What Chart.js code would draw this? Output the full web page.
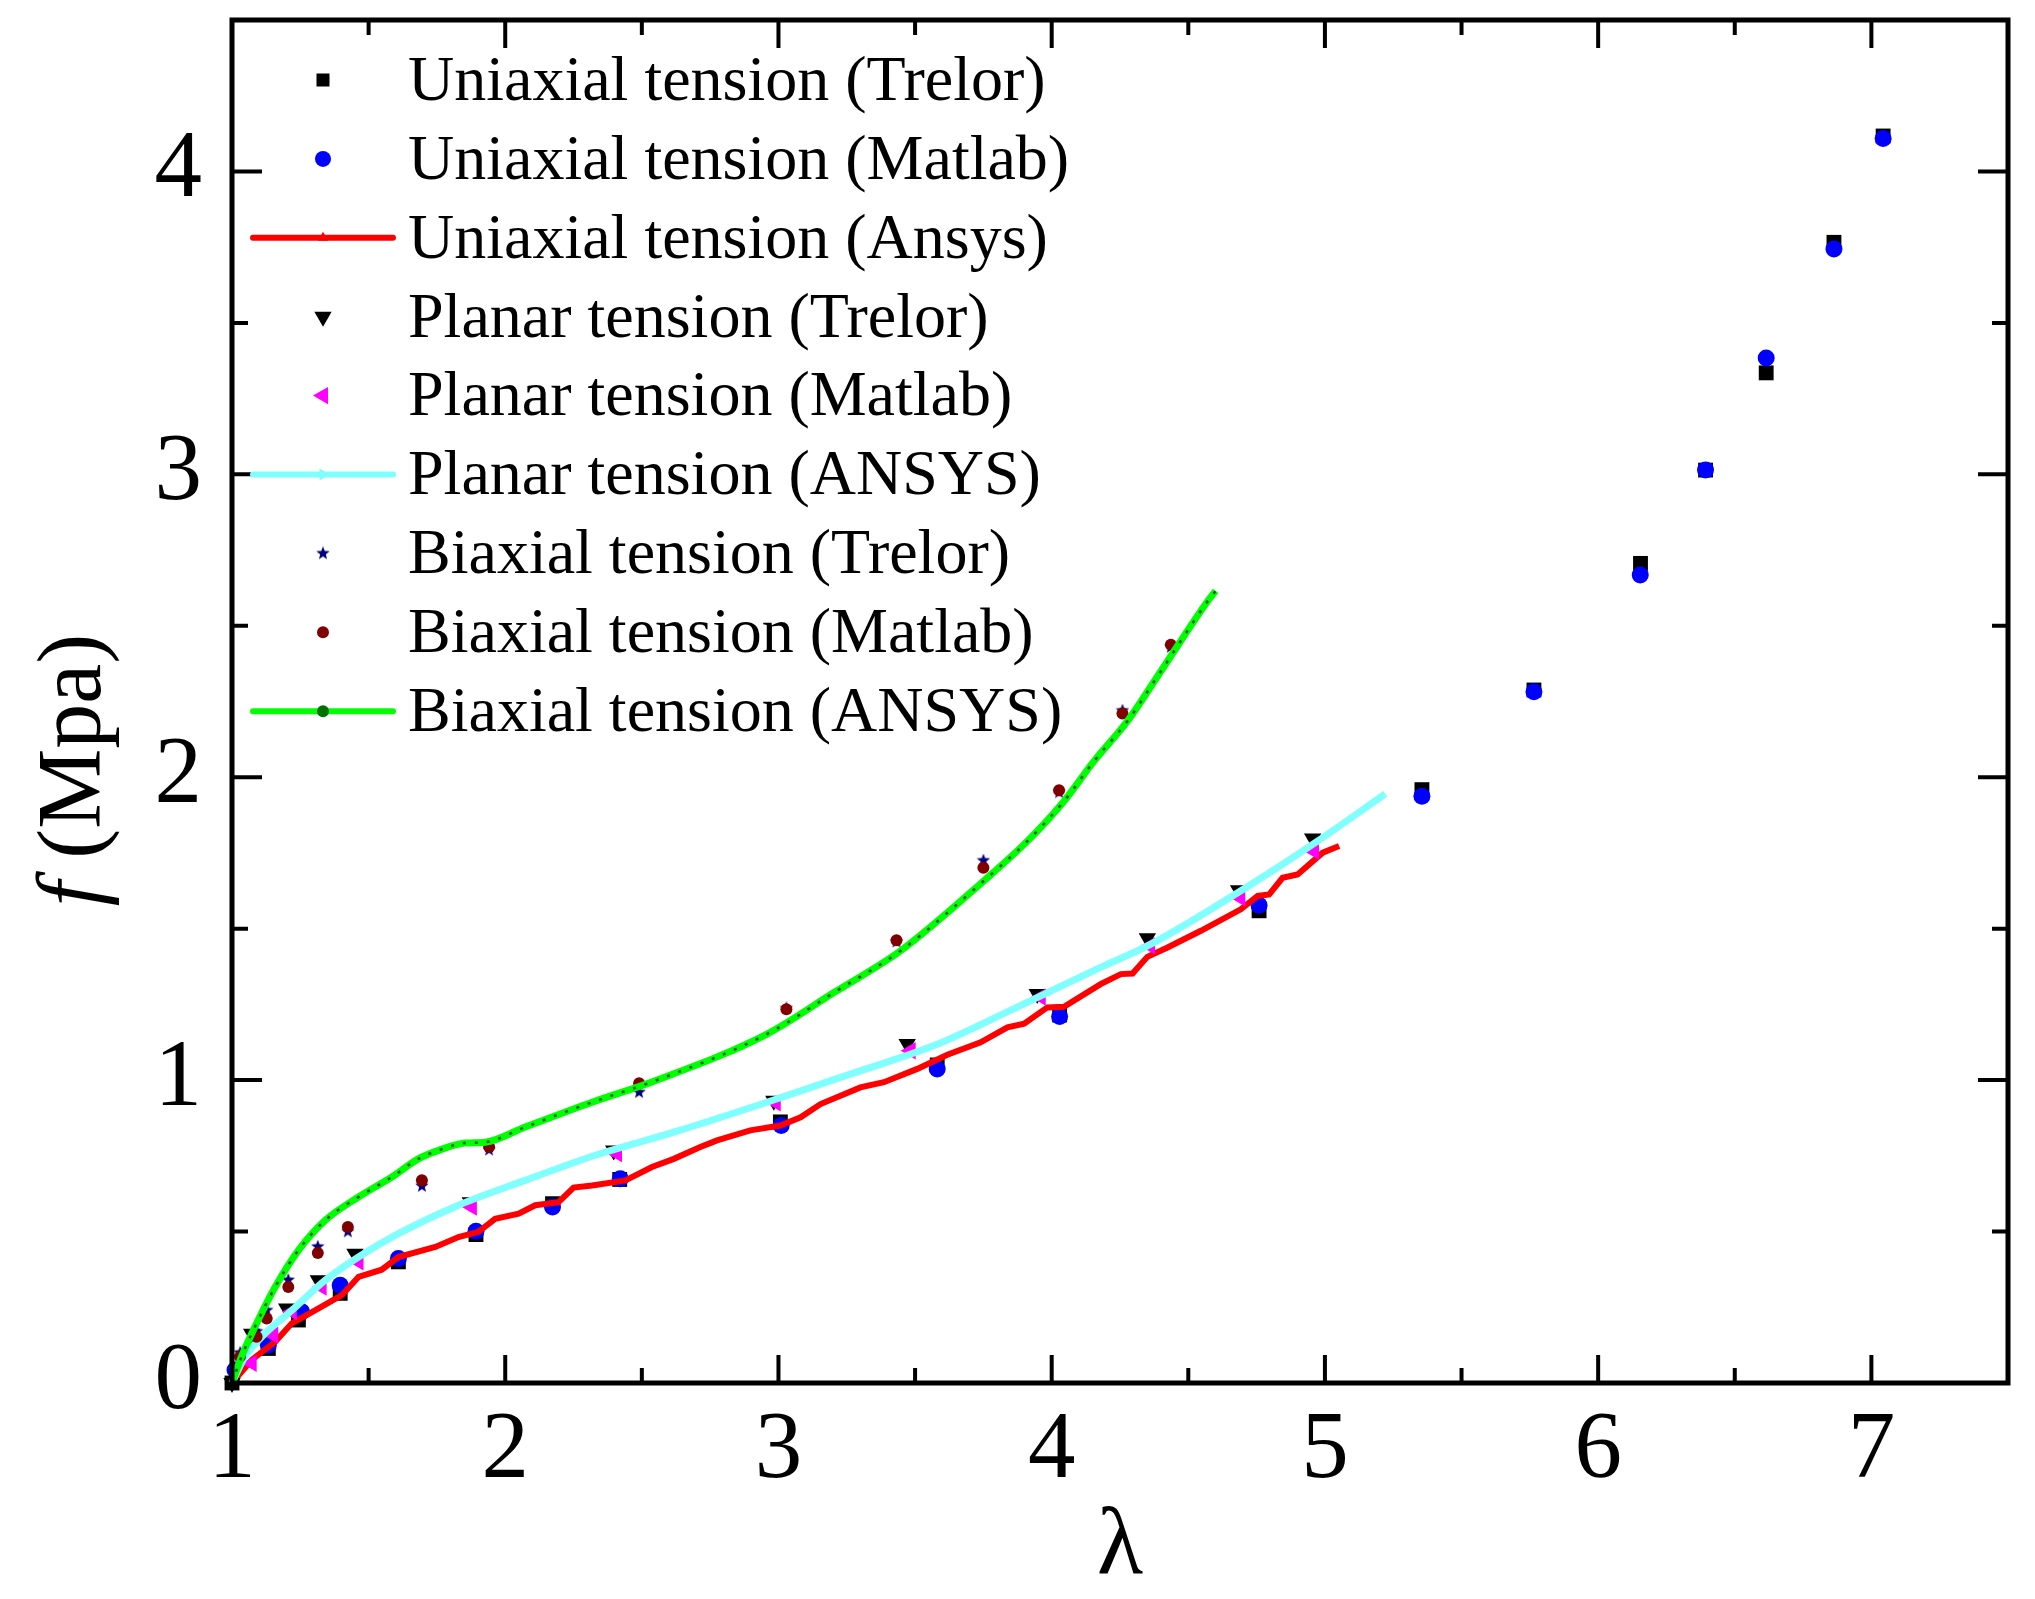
<!DOCTYPE html>
<html>
<head>
<meta charset="utf-8">
<title>f vs lambda</title>
<script src="https://cdn.jsdelivr.net/npm/chart.js@4.4.1/dist/chart.umd.min.js"></script>
<style>
  html, body { margin: 0; padding: 0; background: #fff; }
  #wrap { width: 2035px; height: 1599px; }
</style>
</head>
<body>
<div id="wrap"><canvas id="chart"></canvas></div>
<script>
// series names, in legend order
const seriesNames = [
    'Uniaxial tension (Trelor)',
    'Uniaxial tension (Matlab)',
    'Uniaxial tension (Ansys)',
    'Planar tension (Trelor)',
    'Planar tension (Matlab)',
    'Planar tension (ANSYS)',
    'Biaxial tension (Trelor)',
    'Biaxial tension (Matlab)',
    'Biaxial tension (ANSYS)'
];

// uniaxial tension
const uniTrelorX = [1.0, 1.133, 1.243, 1.396, 1.609, 1.893, 2.173, 2.419, 3.007, 3.581, 4.029, 4.759, 5.355, 5.765, 6.155, 6.393, 6.615, 6.863, 7.043];
const uniTrelorY = [0.0, 0.114, 0.208, 0.296, 0.400, 0.490, 0.592, 0.672, 0.862, 1.050, 1.215, 1.559, 1.959, 2.288, 2.706, 3.014, 3.335, 3.766, 4.117];
const uniMatlabX = [1.011, 1.133, 1.255, 1.396, 1.609, 1.893, 2.173, 2.421, 3.010, 3.581, 4.029, 4.759, 5.355, 5.765, 6.154, 6.393, 6.615, 6.863, 7.043];
const uniMatlabY = [0.043, 0.125, 0.235, 0.323, 0.411, 0.501, 0.581, 0.674, 0.850, 1.037, 1.210, 1.577, 1.937, 2.282, 2.668, 3.014, 3.384, 3.744, 4.109];
const uniAnsysX = [1.000, 1.072, 1.158, 1.219, 1.304, 1.402, 1.463, 1.548, 1.609, 1.744, 1.829, 1.902, 1.963, 2.049, 2.110, 2.195, 2.250, 2.318, 2.440, 2.537, 2.617, 2.714, 2.775, 2.897, 3.007, 3.081, 3.154, 3.300, 3.386, 3.508, 3.618, 3.740, 3.838, 3.899, 3.984, 4.045, 4.179, 4.253, 4.296, 4.350, 4.424, 4.546, 4.692, 4.754, 4.796, 4.845, 4.900, 4.992, 5.052];
const uniAnsysY = [0.000, 0.076, 0.136, 0.197, 0.240, 0.290, 0.350, 0.374, 0.416, 0.449, 0.482, 0.499, 0.542, 0.559, 0.587, 0.597, 0.645, 0.652, 0.669, 0.713, 0.740, 0.779, 0.801, 0.834, 0.850, 0.877, 0.921, 0.976, 0.993, 1.037, 1.084, 1.125, 1.174, 1.186, 1.240, 1.242, 1.317, 1.350, 1.352, 1.407, 1.438, 1.493, 1.564, 1.608, 1.613, 1.668, 1.679, 1.751, 1.773];

// planar tension
const plaTrelorX = [1.0, 1.072, 1.200, 1.316, 1.450, 1.872, 2.397, 2.983, 3.471, 3.947, 4.350, 4.684, 4.955];
const plaTrelorY = [0.0, 0.163, 0.246, 0.339, 0.427, 0.597, 0.768, 0.932, 1.119, 1.284, 1.468, 1.627, 1.798];
const plaMatlabX = [1.072, 1.151, 1.219, 1.328, 1.463, 1.878, 2.409, 2.990, 3.484, 3.960, 4.360, 4.690, 4.960];
const plaMatlabY = [0.065, 0.158, 0.235, 0.317, 0.400, 0.581, 0.757, 0.925, 1.097, 1.274, 1.443, 1.602, 1.756];
const plaAnsysX = [1.000, 1.048, 1.121, 1.219, 1.341, 1.463, 1.609, 1.829, 2.073, 2.330, 2.617, 2.958, 3.264, 3.569, 3.874, 4.179, 4.363, 4.729, 4.973, 5.221];
const plaAnsysY = [0.000, 0.087, 0.163, 0.240, 0.339, 0.416, 0.493, 0.587, 0.669, 0.752, 0.828, 0.927, 1.020, 1.114, 1.241, 1.372, 1.449, 1.646, 1.789, 1.945];

// biaxial tension
const biTrelorX = [1.030, 1.090, 1.127, 1.206, 1.314, 1.424, 1.695, 1.941, 2.490, 3.029, 3.432, 3.750, 4.027, 4.259, 4.436];
const biTrelorY = [0.100, 0.170, 0.240, 0.340, 0.450, 0.500, 0.650, 0.770, 0.960, 1.237, 1.457, 1.725, 1.950, 2.220, 2.430];
const biMatlabX = [1.029, 1.090, 1.127, 1.206, 1.314, 1.424, 1.695, 1.941, 2.490, 3.029, 3.432, 3.750, 4.027, 4.259, 4.436];
const biMatlabY = [0.087, 0.153, 0.213, 0.317, 0.429, 0.515, 0.669, 0.779, 0.990, 1.234, 1.462, 1.701, 1.957, 2.210, 2.437];
const biAnsysX = [1.000, 1.035, 1.096, 1.158, 1.243, 1.341, 1.463, 1.585, 1.682, 1.756, 1.853, 1.927, 2.073, 2.318, 2.549, 2.958, 3.203, 3.447, 3.758, 3.911, 4.045, 4.155, 4.277, 4.399, 4.570, 4.600];
const biAnsysY = [0.000, 0.087, 0.208, 0.317, 0.438, 0.537, 0.614, 0.680, 0.740, 0.768, 0.792, 0.795, 0.845, 0.927, 0.998, 1.152, 1.289, 1.427, 1.663, 1.789, 1.921, 2.053, 2.185, 2.349, 2.580, 2.615];

// axes
const xTickLabels = [1, 2, 3, 4, 5, 6, 7];
const yTickLabels = [0, 1, 2, 3, 4];
const xRange = [1, 7.5];
const yRange = [0, 4.5];
const xTitle = 'λ';
const yTitleItalic = 'f';
const yTitleRest = ' (Mpa)';

const serif = '"Liberation Serif", "Times New Roman", serif';

function pts(xs, ys) {
    return xs.map((x, i) => ({ x: x, y: ys[i] }));
}

// small filled five point star, used as point image
function makeStar(size, color) {
    const c = document.createElement('canvas');
    c.width = size;
    c.height = size;
    const g = c.getContext('2d');
    const R = size / 2, r = R * 0.42;
    g.fillStyle = color;
    g.beginPath();
    for (let k = 0; k < 10; k++) {
        const a = -Math.PI / 2 + k * Math.PI / 5;
        const rr = k % 2 === 0 ? R : r;
        g.lineTo(R + Math.cos(a) * rr, R + Math.sin(a) * rr);
    }
    g.closePath();
    g.fill();
    return c;
}
const starPlot = makeStar(14, '#000080');

function drawMarker(ctx, style, x, y, r, rot, color) {
    ctx.save();
    ctx.translate(x, y);
    if (style instanceof HTMLCanvasElement) {
        ctx.drawImage(style, -style.width / 2, -style.height / 2);
        ctx.restore();
        return;
    }
    ctx.rotate((rot || 0) * Math.PI / 180);
    ctx.fillStyle = color;
    ctx.beginPath();
    if (style === 'rect') {
        const s = r * Math.SQRT1_2;
        ctx.rect(-s, -s, 2 * s, 2 * s);
    } else if (style === 'triangle') {
        for (let k = 0; k < 3; k++) {
            const a = k * 2 * Math.PI / 3;
            ctx.lineTo(Math.sin(a) * r, -Math.cos(a) * r);
        }
        ctx.closePath();
    } else {
        ctx.arc(0, 0, r, 0, Math.PI * 2);
    }
    ctx.fill();
    ctx.restore();
}

function scatterSet(i, data, style, color, radius, rotation, legendRadius) {
    return {
        label: seriesNames[i],
        data: data,
        showLine: false,
        pointStyle: style,
        pointRadius: radius,
        pointRotation: rotation,
        pointBackgroundColor: color,
        pointBorderWidth: 0,
        backgroundColor: color,
        borderColor: color,
        clip: false,
        order: 20 - i,
        legendMarker: { style: style, radius: legendRadius, rotation: rotation, color: color }
    };
}

function lineSet(i, data, color, width, smooth, marker) {
    return {
        label: seriesNames[i],
        data: data,
        showLine: true,
        borderColor: color,
        borderWidth: width,
        backgroundColor: color,
        pointRadius: 0,
        tension: smooth ? 0.4 : 0,
        cubicInterpolationMode: smooth ? 'monotone' : 'default',
        fill: false,
        clip: false,
        order: 20 - i,
        legendLine: true,
        legendMarker: marker
    };
}

const datasets = [
    scatterSet(0, pts(uniTrelorX, uniTrelorY), 'rect', '#000000', 10.5, 0, 9.2),
    scatterSet(1, pts(uniMatlabX, uniMatlabY), 'circle', '#0000FF', 8.5, 0, 8),
    lineSet(2, pts(uniAnsysX, uniAnsysY), '#FF0000', 6, false, { style: 'triangle', radius: 6, rotation: 0, color: '#FF0000' }),
    scatterSet(3, pts(plaTrelorX, plaTrelorY), 'triangle', '#000000', 10, 180, 10),
    scatterSet(4, pts(plaMatlabX, plaMatlabY), 'triangle', '#FF00FF', 10, 270, 10),
    lineSet(5, pts(plaAnsysX, plaAnsysY), '#80FFFF', 7, true, { style: 'triangle', radius: 7, rotation: 90, color: '#80FFFF' }),
    scatterSet(6, pts(biTrelorX, biTrelorY), starPlot, '#000080', 7, 0, 7),
    scatterSet(7, pts(biMatlabX, biMatlabY), 'circle', '#800000', 6, 0, 6),
    lineSet(8, pts(biAnsysX, biAnsysY), '#00FF00', 7, true, { style: 'circle', radius: 6, rotation: 0, color: '#007000' }),
    // dark dotted trace that runs along the green curve
    {
        label: seriesNames[8] + ' markers',
        data: pts(biAnsysX, biAnsysY),
        showLine: true,
        borderColor: '#006000',
        borderWidth: 2.5,
        borderDash: [3, 9],
        pointRadius: 0,
        tension: 0.4,
        cubicInterpolationMode: 'monotone',
        fill: false,
        clip: false,
        order: 0,
        legendSkip: true
    }
];

// frame with inward major and minor ticks on all four sides
const framePlugin = {
    id: 'frame',
    afterDraw(chart) {
        const { ctx, chartArea: a, scales: { x, y } } = chart;
        ctx.save();
        ctx.strokeStyle = '#000';
        ctx.lineCap = 'butt';
        ctx.lineWidth = 4;
        ctx.beginPath();
        for (let v = xRange[0] + 0.5; v < xRange[1] - 1e-9; v += 0.5) {
            const px = x.getPixelForValue(v);
            const len = Number.isInteger(v) ? 28 : 15;
            ctx.moveTo(px, a.bottom);
            ctx.lineTo(px, a.bottom - len);
            ctx.moveTo(px, a.top);
            ctx.lineTo(px, a.top + len);
        }
        for (let v = yRange[0] + 0.5; v < yRange[1] - 1e-9; v += 0.5) {
            const py = y.getPixelForValue(v);
            const len = Number.isInteger(v) ? 30 : 16;
            ctx.moveTo(a.left, py);
            ctx.lineTo(a.left + len, py);
            ctx.moveTo(a.right, py);
            ctx.lineTo(a.right - len, py);
        }
        ctx.stroke();
        ctx.lineWidth = 5;
        ctx.strokeRect(a.left, a.top, a.right - a.left, a.bottom - a.top);

        // y axis title, italic f
        ctx.fillStyle = '#000';
        ctx.textBaseline = 'alphabetic';
        ctx.textAlign = 'left';
        ctx.translate(100, 770);
        ctx.rotate(-Math.PI / 2);
        ctx.font = 'italic 90px ' + serif;
        const w1 = ctx.measureText(yTitleItalic).width;
        ctx.font = '90px ' + serif;
        const w2 = ctx.measureText(yTitleRest).width;
        const sx = -(w1 + w2) / 2;
        ctx.font = 'italic 90px ' + serif;
        ctx.fillText(yTitleItalic, sx, 0);
        ctx.font = '90px ' + serif;
        ctx.fillText(yTitleRest, sx + w1, 0);
        ctx.restore();
    }
};

// legend drawn inside the plot area, top left
const insideLegend = {
    id: 'insideLegend',
    afterDraw(chart) {
        const { ctx, chartArea: a } = chart;
        const markerX = a.left + 91;
        const lineHalf = 70;
        const textX = a.left + 176;
        const rowY0 = a.top + 60;
        const rowStep = 78.9;
        ctx.save();
        ctx.font = '64px ' + serif;
        ctx.textBaseline = 'middle';
        ctx.textAlign = 'left';
        let row = 0;
        chart.data.datasets.forEach(ds => {
            if (ds.legendSkip) return;
            const yy = rowY0 + row * rowStep;
            if (ds.legendLine) {
                ctx.strokeStyle = ds.borderColor;
                ctx.lineWidth = 6;
                ctx.lineCap = 'round';
                ctx.beginPath();
                ctx.moveTo(markerX - lineHalf, yy);
                ctx.lineTo(markerX + lineHalf, yy);
                ctx.stroke();
            }
            const m = ds.legendMarker;
            drawMarker(ctx, m.style, markerX, yy, m.radius, m.rotation, m.color);
            ctx.fillStyle = '#000';
            ctx.fillText(ds.label, textX, yy + 3);
            row++;
        });
        ctx.restore();
    }
};

// drop the label overhang padding chart.js adds, the frame sits at fixed margins
function fixPadding(scale) {
    scale.paddingTop = 0;
    scale.paddingBottom = 0;
    scale.paddingLeft = 0;
    scale.paddingRight = 0;
}

function buildChart() {
    const ctx = document.getElementById('chart').getContext('2d');
    new Chart(ctx, {
        type: 'scatter',
        data: { datasets: datasets },
        options: {
            responsive: true,
            maintainAspectRatio: false,
            devicePixelRatio: 1,
            animation: false,
            layout: { autoPadding: false, padding: { left: 0, right: 27, top: 20, bottom: 0 } },
            plugins: {
                legend: { display: false },
                tooltip: { enabled: false }
            },
            scales: {
                x: {
                    type: 'linear',
                    position: 'bottom',
                    min: xRange[0],
                    max: xRange[1],
                    grid: { display: false, drawTicks: false },
                    border: { display: false },
                    ticks: {
                        stepSize: 1,
                        padding: 12,
                        color: '#000',
                        maxRotation: 0,
                        font: { family: serif, size: 95, lineHeight: 1.2 }
                    },
                    afterBuildTicks: scale => {
                        scale.ticks = xTickLabels.map(v => ({ value: v }));
                    },
                    afterFit: scale => {
                        scale.height = 216;
                        fixPadding(scale);
                    },
                    title: {
                        display: true,
                        text: xTitle,
                        color: '#000',
                        font: { family: serif, size: 95, lineHeight: 1 },
                        padding: { top: 0, bottom: 3 }
                    }
                },
                y: {
                    type: 'linear',
                    position: 'left',
                    min: yRange[0],
                    max: yRange[1],
                    grid: { display: false, drawTicks: false },
                    border: { display: false },
                    ticks: {
                        stepSize: 1,
                        padding: 30,
                        color: '#000',
                        font: { family: serif, size: 95, lineHeight: 1.2 }
                    },
                    afterBuildTicks: scale => {
                        scale.ticks = yTickLabels.map(v => ({ value: v }));
                    },
                    afterFit: scale => {
                        scale.width = 232;
                        fixPadding(scale);
                    }
                }
            }
        },
        plugins: [framePlugin, insideLegend]
    });
}

// make sure the serif face is ready before the canvas draws text
Promise.all([
    document.fonts.load('64px "Liberation Serif"'),
    document.fonts.load('italic 90px "Liberation Serif"')
]).then(buildChart, buildChart);
</script>
</body>
</html>
